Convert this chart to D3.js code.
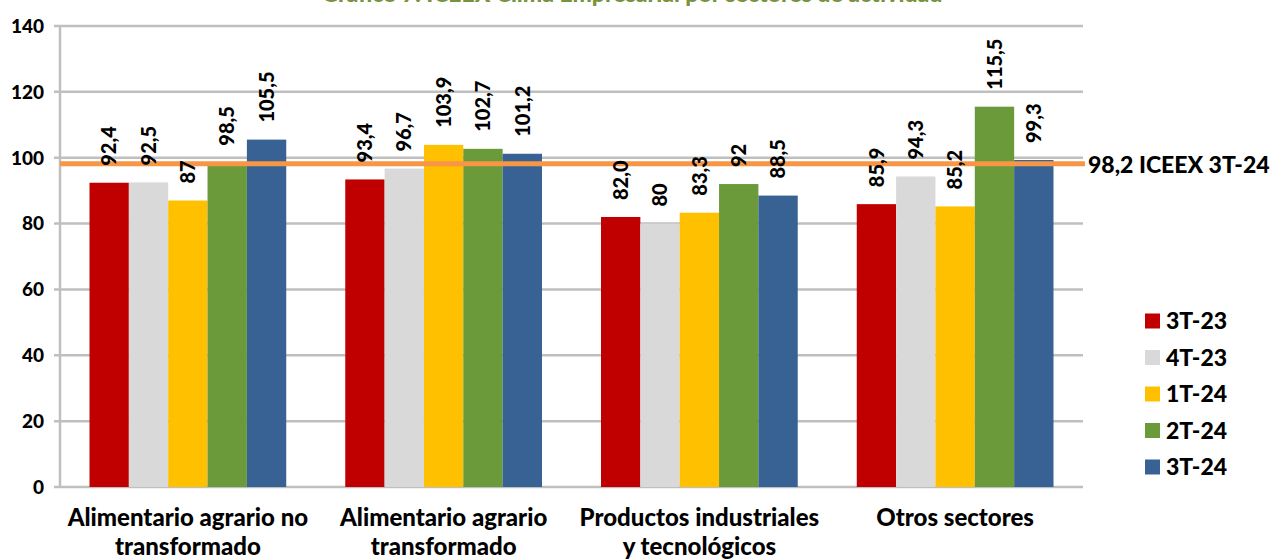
<!DOCTYPE html>
<html lang="es">
<head>
<meta charset="utf-8">
<title>ICEEX por sectores</title>
<script src="https://d3js.org/d3.v7.min.js"></script>
<style>
  body { margin: 0; background: #fff; }
  text { font-family: Lato, "Open Sans", sans-serif; font-weight: 900; }
</style>
</head>
<body>
<script>
  // data
  const categories = [
    ["Alimentario agrario no", "transformado"],
    ["Alimentario agrario", "transformado"],
    ["Productos industriales", "y tecnológicos"],
    ["Otros sectores"]
  ];
  const series = ["3T-23", "4T-23", "1T-24", "2T-24", "3T-24"];
  const values = [
    [92.4, 93.4, 82.0, 85.9],
    [92.5, 96.7, 80, 94.3],
    [87, 103.9, 83.3, 85.2],
    [98.5, 102.7, 92, 115.5],
    [105.5, 101.2, 88.5, 99.3]
  ];
  const labels = [
    ["92,4", "93,4", "82,0", "85,9"],
    ["92,5", "96,7", "80", "94,3"],
    ["87", "103,9", "83,3", "85,2"],
    ["98,5", "102,7", "92", "115,5"],
    ["105,5", "101,2", "88,5", "99,3"]
  ];
  const colors = ["#C00000", "#D9D9D9", "#FFC000", "#6B9A3A", "#386294"];
  const refValue = 98.2;
  const refLabel = "98,2 ICEEX 3T-24";
  const yTicks = [0, 20, 40, 60, 80, 100, 120, 140];
  const title = "Gráfico 7. ICEEX Clima Empresarial por sectores de actividad";

  const W = 1277, H = 559;
  const mLeft = 60, mRight = 1083, mTop = 26, mBottom = 487;

  const svg = d3.select("body").append("svg")
    .attr("width", W).attr("height", H);

  const catIdx = categories.map((d, i) => i);
  const x0 = d3.scaleBand().domain(catIdx).range([mLeft, mRight]);
  const x1 = d3.scaleBand().domain(series).range([0, x0.bandwidth()])
    .paddingInner(0).paddingOuter(0.75);
  const y = d3.scaleLinear().domain([0, 140]).range([mBottom, mTop]);

  // title, its top is cut by the page edge like in the original
  svg.append("text")
    .attr("x", 632).attr("y", 2)
    .attr("text-anchor", "middle")
    .attr("font-size", 23)
    .attr("fill", "#77933C")
    .text(title);

  // gridlines
  svg.append("g").selectAll("line")
    .data(yTicks)
    .join("line")
    .attr("x1", mLeft - 6).attr("x2", mRight)
    .attr("y1", d => y(d)).attr("y2", d => y(d))
    .attr("stroke", "#BFBFBF").attr("stroke-width", 2.5);

  svg.append("line")
    .attr("x1", mLeft).attr("x2", mLeft)
    .attr("y1", mTop).attr("y2", mBottom)
    .attr("stroke", "#BFBFBF").attr("stroke-width", 2.5);

  svg.append("g").selectAll("text")
    .data(yTicks)
    .join("text")
    .attr("x", mLeft - 16).attr("y", d => y(d))
    .attr("dy", "0.36em")
    .attr("text-anchor", "end")
    .attr("font-size", 19)
    .text(d => d);

  // bars
  const flat = [];
  series.forEach((s, si) => catIdx.forEach(ci => flat.push({ s, si, ci, v: values[si][ci], lab: labels[si][ci] })));

  svg.append("g").selectAll("rect")
    .data(flat)
    .join("rect")
    .attr("x", d => x0(d.ci) + x1(d.s))
    .attr("width", x1.bandwidth())
    .attr("y", d => y(d.v))
    .attr("height", d => y(0) - y(d.v))
    .attr("fill", d => colors[d.si]);

  // reference line
  svg.append("line")
    .attr("x1", mLeft).attr("x2", mRight + 2)
    .attr("y1", y(refValue)).attr("y2", y(refValue))
    .attr("stroke", "#F79646").attr("stroke-width", 5);

  svg.append("text")
    .attr("x", mRight + 5).attr("y", y(refValue) + 1)
    .attr("dy", "0.36em")
    .attr("font-size", 23)
    .text(refLabel);

  // value labels
  svg.append("g").selectAll("text")
    .data(flat)
    .join("text")
    .attr("transform", d => `translate(${x0(d.ci) + x1(d.s) + x1.bandwidth() / 2},${y(d.v) - 17}) rotate(-90)`)
    .attr("dy", "0.36em")
    .attr("font-size", 20)
    .text(d => d.lab);

  // category labels
  const cat = svg.append("g").selectAll("text")
    .data(categories)
    .join("text")
    .attr("x", (d, i) => x0(i) + x0.bandwidth() / 2)
    .attr("y", 526)
    .attr("text-anchor", "middle")
    .attr("font-size", 24);
  cat.selectAll("tspan")
    .data(d => d)
    .join("tspan")
    .attr("x", function () { return this.parentNode.getAttribute("x"); })
    .attr("dy", (d, i) => i ? 29 : 0)
    .text(d => d);

  // legend
  const lg = svg.append("g").selectAll("g")
    .data(series)
    .join("g")
    .attr("transform", (d, i) => `translate(1145,${321 + i * 36.5})`);
  lg.append("rect")
    .attr("x", 0).attr("y", -7.5).attr("width", 15).attr("height", 15)
    .attr("fill", (d, i) => colors[i]);
  lg.append("text")
    .attr("x", 21).attr("dy", "0.36em")
    .attr("font-size", 23)
    .text(d => d);
</script>
</body>
</html>
